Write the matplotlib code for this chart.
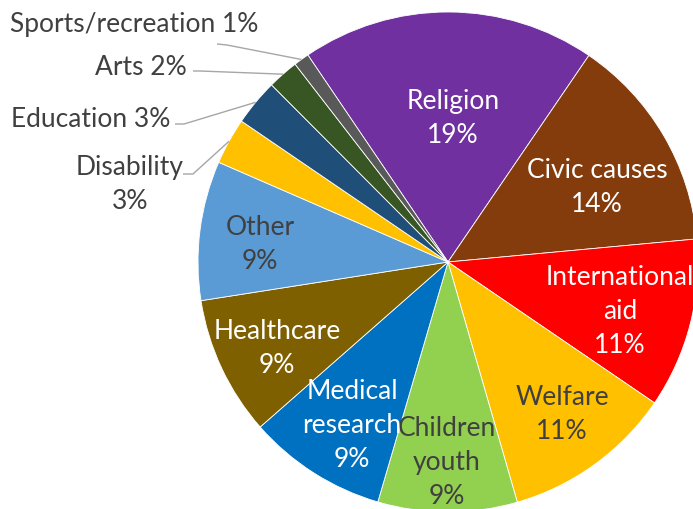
import numpy as np
import matplotlib
matplotlib.use('Agg')
import matplotlib.pyplot as plt

plt.rcParams['font.family'] = ['Lato', 'DejaVu Sans']

# giving by cause, percent of total (clockwise from Religion)
causes = ['Religion', 'Civic causes', 'International\naid', 'Welfare',
          'Children\nyouth', 'Medical\nresearch', 'Healthcare', 'Other',
          'Disability', 'Education', 'Arts', 'Sports/recreation']
shares = [19, 14, 11, 11, 9, 9, 9, 9, 3, 3, 2, 1]
colors = ['#7030A0', '#843C0C', '#FF0000', '#FFC000', '#92D050', '#0070C0',
          '#7F6000', '#5B9BD5', '#FFC000', '#1F4E79', '#375623', '#595959']
text_colors = ['white', 'white', 'white', '#404040', '#404040', 'white',
               'white', '#404040']

W, H = 693, 509
fig = plt.figure(figsize=(W / 100, H / 100), dpi=100)
ax = fig.add_axes([0, 0, 1, 1])

cx, cy, R = 448, H - 262, 250
start = 124.1
wedges, _ = ax.pie(shares, colors=colors, startangle=start, counterclock=False,
                   center=(cx, cy), radius=R, frame=True,
                   wedgeprops=dict(edgecolor='white', linewidth=0.6))
ax.set_xlim(0, W)
ax.set_ylim(0, H)
ax.set_aspect('equal')
ax.axis('off')

fs = 19.0
ls = 1.45
nudge = 2.5  # va='center' sits a little high for two-line labels

def mid_angle(w):
    return (w.theta1 + w.theta2) / 2

# labels inside the big slices: radius fraction and angle tweak from mid-slice
inner_r = [0.586, 0.671, 0.713, 0.752, 0.792, 0.750, 0.762, 0.756]
inner_da = [-1.9, -3.2, -0.8, 1.4, -0.2, 1.7, 1.1, 1.2]
for i in range(8):
    a = np.deg2rad(mid_angle(wedges[i]) + inner_da[i])
    x = cx + inner_r[i] * R * np.cos(a)
    y = cy + inner_r[i] * R * np.sin(a) - nudge
    ax.text(x, y, '%s\n%d%%' % (causes[i], shares[i]), ha='center', va='center',
            color=text_colors[i], fontsize=fs, linespacing=ls)

# small slices get outside labels with leader lines (image px, y down)
out_text = [(130, 182, 'center'), (170, 117, 'right'), (187, 65, 'right'), (258, 22, 'right')]
out_knee = [((193, 174), (183, 174)), ((184, 124), (175, 124)),
            ((200, 71), (193, 71)), ((227, 45), (217, 44))]
for j, i in enumerate(range(8, 12)):
    a = np.deg2rad(mid_angle(wedges[i]))
    ex, ey = cx + R * np.cos(a), cy + R * np.sin(a)
    (kx, ky), (lx, ly) = out_knee[j]
    ax.plot([ex, kx, lx], [ey, H - ky, H - ly], color='#A6A6A6', lw=1.0,
            solid_capstyle='butt')
    tx, ty, ha = out_text[j]
    sep = '\n' if causes[i] == 'Disability' else ' '
    ax.text(tx, H - ty - nudge, '%s%s%d%%' % (causes[i], sep, shares[i]), ha=ha,
            va='center', color='#404040', fontsize=fs, linespacing=ls,
            multialignment='center')

fig.savefig('out.png', dpi=100)
